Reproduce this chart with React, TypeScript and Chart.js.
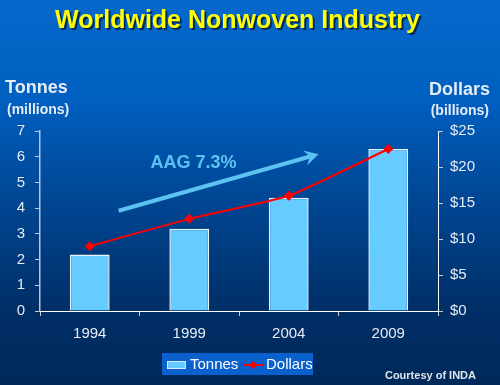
import React, { useEffect, useRef } from "react";
import { Chart, registerables } from "chart.js";

Chart.register(...registerables);

const TITLE = "Worldwide Nonwoven Industry";
const CATEGORIES = ["1994", "1999", "2004", "2009"];
const TONNES = [2.2, 3.2, 4.4, 6.3];
const DOLLARS = [9.0, 12.8, 16.0, 22.5];
const LEFT_TITLE = ["Tonnes", "(millions)"];
const RIGHT_TITLE = ["Dollars", "(billions)"];
const ARROW_LABEL = "AAG 7.3%";
// arrow endpoints in data space: [category index, tonnes value]
const ARROW_FROM = [0.29, 3.9];
const ARROW_TO = [2.3, 6.1];
const ARROW_LABEL_AT = [0.61, 5.75];
const CREDIT = "Courtesy of INDA";

const FONT = "'Liberation Sans', Arial, sans-serif";
const TEXT = "#e6ecf5";
const BAR = "#66ccff";
const RED = "#ff0000";
const ARROW = "#5cc2f2";

const decorPlugin = {
  id: "decor",
  beforeDraw(chart: any) {
    const { ctx, width, height } = chart;
    const g = ctx.createLinearGradient(0, 0, 0, height);
    g.addColorStop(0, "#0668ca");
    g.addColorStop(0.25, "#0060c2");
    g.addColorStop(0.5, "#004896");
    g.addColorStop(0.8, "#002f68");
    g.addColorStop(1, "#00295a");
    ctx.save();
    ctx.fillStyle = g;
    ctx.fillRect(0, 0, width, height);
    ctx.restore();
  },
  beforeDatasetsDraw(chart: any) {
    const { ctx } = chart;
    const x = chart.scales.x;
    const y = chart.scales.y;
    const x0 = x.getPixelForValue(ARROW_FROM[0]);
    const y0 = y.getPixelForValue(ARROW_FROM[1]);
    const x1 = x.getPixelForValue(ARROW_TO[0]);
    const y1 = y.getPixelForValue(ARROW_TO[1]);
    const ang = Math.atan2(y1 - y0, x1 - x0);
    ctx.save();
    ctx.strokeStyle = ARROW;
    ctx.fillStyle = ARROW;
    ctx.lineWidth = 4;
    ctx.beginPath();
    ctx.moveTo(x0, y0);
    ctx.lineTo(x1 - 6 * Math.cos(ang), y1 - 6 * Math.sin(ang));
    ctx.stroke();
    // arrow head
    ctx.beginPath();
    const L = 16, W = 0.5;
    ctx.moveTo(x1, y1);
    ctx.lineTo(x1 - L * Math.cos(ang - W), y1 - L * Math.sin(ang - W));
    ctx.lineTo(x1 - 9 * Math.cos(ang), y1 - 9 * Math.sin(ang));
    ctx.lineTo(x1 - L * Math.cos(ang + W), y1 - L * Math.sin(ang + W));
    ctx.closePath();
    ctx.fill();
    // label
    ctx.font = `bold 18px ${FONT}`;
    ctx.textBaseline = "middle";
    ctx.textAlign = "left";
    ctx.fillText(ARROW_LABEL, x.getPixelForValue(ARROW_LABEL_AT[0]), y.getPixelForValue(ARROW_LABEL_AT[1]));
    ctx.restore();
  },
  afterDraw(chart: any) {
    const { ctx } = chart;
    ctx.save();
    // title
    ctx.font = `bold 25px ${FONT}`;
    ctx.textAlign = "center";
    ctx.textBaseline = "alphabetic";
    ctx.fillStyle = "#032a5a";
    ctx.fillText(TITLE, 239.5, 30);
    ctx.fillStyle = "#ffff00";
    ctx.fillText(TITLE, 237.5, 28);

    // axis titles
    ctx.fillStyle = TEXT;
    ctx.textBaseline = "middle";
    ctx.font = `bold 18px ${FONT}`;
    ctx.textAlign = "left";
    ctx.fillText(LEFT_TITLE[0], 5, 88);
    ctx.font = `bold 14px ${FONT}`;
    ctx.fillText(LEFT_TITLE[1], 7, 110);
    ctx.font = `bold 18px ${FONT}`;
    ctx.textAlign = "right";
    ctx.fillText(RIGHT_TITLE[0], 490, 90);
    ctx.font = `bold 14px ${FONT}`;
    ctx.fillText(RIGHT_TITLE[1], 489, 111);

    // legend
    const ds = chart.data.datasets;
    const lx = 162, ly = 353, lw = 151, lh = 22;
    ctx.fillStyle = "#0a60cc";
    ctx.fillRect(lx, ly, lw, lh);
    ctx.fillStyle = ds[0].backgroundColor;
    ctx.fillRect(lx + 5, ly + 8, 19, 8);
    ctx.strokeStyle = "#d8ecff";
    ctx.lineWidth = 1;
    ctx.strokeRect(lx + 5.5, ly + 8.5, 18, 7);
    ctx.font = `15px ${FONT}`;
    ctx.textAlign = "left";
    ctx.fillStyle = "#ffffff";
    ctx.fillText(ds[0].label, lx + 28, ly + 12);
    ctx.strokeStyle = ds[1].borderColor;
    ctx.lineWidth = 2;
    ctx.beginPath();
    ctx.moveTo(lx + 81, ly + 12);
    ctx.lineTo(lx + 101, ly + 12);
    ctx.stroke();
    ctx.fillStyle = ds[1].borderColor;
    ctx.beginPath();
    const cx = lx + 91, cy = ly + 12, r = 4;
    ctx.moveTo(cx, cy - r);
    ctx.lineTo(cx + r, cy);
    ctx.lineTo(cx, cy + r);
    ctx.lineTo(cx - r, cy);
    ctx.closePath();
    ctx.fill();
    ctx.fillStyle = "#ffffff";
    ctx.fillText(ds[1].label, lx + 104, ly + 12);

    // credit
    ctx.font = `bold 11px ${FONT}`;
    ctx.fillStyle = "#e0e4ec";
    ctx.textAlign = "right";
    ctx.fillText(CREDIT, 476, 376);
    ctx.restore();
  },
};

export default function App() {
  const ref = useRef<HTMLCanvasElement | null>(null);
  useEffect(() => {
    if (!ref.current) return;
    const chart = new Chart(ref.current, {
      type: "bar",
      data: {
        labels: CATEGORIES,
        datasets: [
          {
            type: "bar",
            label: "Tonnes",
            data: TONNES,
            yAxisID: "y",
            backgroundColor: BAR,
            borderColor: "#e8f4ff",
            borderWidth: 1.5,
            barPercentage: 0.4,
            categoryPercentage: 1,
            order: 2,
          },
          {
            type: "line",
            label: "Dollars",
            data: DOLLARS,
            yAxisID: "y1",
            borderColor: RED,
            backgroundColor: RED,
            borderWidth: 2,
            tension: 0.15,
            pointStyle: "rectRot",
            pointRadius: 5,
            pointBorderWidth: 0,
            pointBackgroundColor: RED,
            order: 1,
          },
        ],
      } as any,
      options: {
        responsive: false,
        animation: false,
        layout: { padding: { top: 131, left: 0, right: 0, bottom: 0 } },
        plugins: {
          legend: { display: false },
          tooltip: { enabled: false },
          title: { display: false },
        },
        scales: {
          x: {
            offset: true,
            grid: {
              display: true,
              offset: true,
              drawOnChartArea: false,
              drawTicks: true,
              tickLength: 5,
              color: "#c8d0e0",
            },
            border: { display: true, color: "#ffffff", dash: [3, 2], width: 1 },
            ticks: { color: TEXT, font: { family: FONT, size: 15 }, padding: 9 },
            afterFit: (s: any) => {
              s.height = 74;
            },
          },
          y: {
            position: "left",
            min: 0,
            max: 7,
            ticks: { stepSize: 1, color: TEXT, font: { family: FONT, size: 15 }, padding: 10 },
            grid: { drawOnChartArea: false, tickLength: 5, color: "#c0cadc" },
            border: { display: true, color: "#b8c4d8", width: 1.5 },
            afterFit: (s: any) => {
              s.width = 40;
            },
          },
          y1: {
            position: "right",
            min: 0,
            max: 25,
            ticks: {
              stepSize: 5,
              color: TEXT,
              font: { family: FONT, size: 15 },
              padding: 7,
              callback: (v: any) => "$" + v,
            },
            grid: { drawOnChartArea: false, tickLength: 5, color: "#c0cadc" },
            border: { display: true, color: "#ffffff", dash: [2, 2], width: 1 },
            afterFit: (s: any) => {
              s.width = 62;
            },
          },
        },
      } as any,
      plugins: [decorPlugin],
    });
    return () => chart.destroy();
  }, []);
  return (
    <div style={{ position: "fixed", left: 0, top: 0, width: 500, height: 385 }}>
      <canvas ref={ref} width={500} height={385} style={{ display: "block" }} />
    </div>
  );
}
